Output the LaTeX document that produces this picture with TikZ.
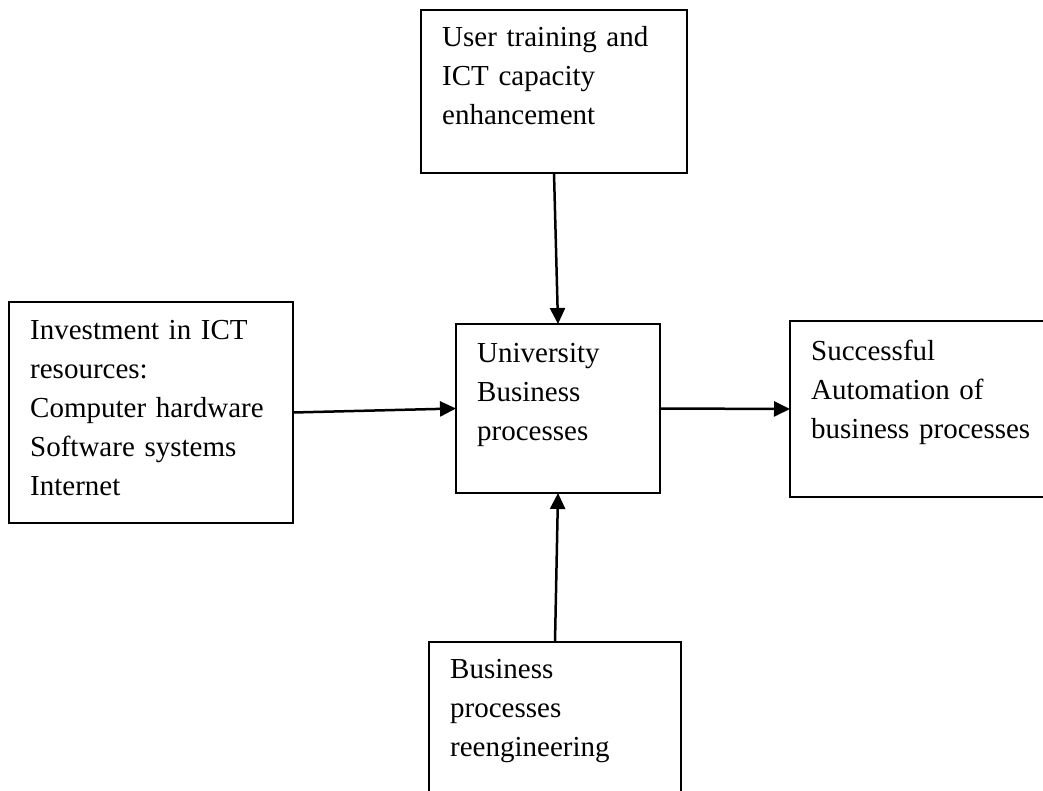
\documentclass[tikz,border=0pt]{standalone}
\usepackage{fontspec}
\setmainfont{Liberation Serif}
\usetikzlibrary{shapes,arrows.meta,positioning}

\begin{document}
\begin{tikzpicture}[x=1pt,y=-1pt,>={Triangle[length=16pt,width=15pt]},font=\fontsize{29}{39}\selectfont]

    % Define node styles
    \tikzstyle{block} = [draw, rectangle, line width=2pt, outer sep=0pt, anchor=north west]
    \tikzstyle{label} = [inner sep=0pt, align=left, anchor=base west]
    \tikzstyle{link} = [->, line width=2.5pt]

    \useasboundingbox (0,0) rectangle (1043,791);
    \clip (0,0) rectangle (1043,791);

    % Draw nodes
    \node [block, minimum width=266pt, minimum height=163pt] (training) at (421,10) {};
    \node [block, minimum width=284pt, minimum height=221pt] (investment) at (9,302) {};
    \node [block, minimum width=204pt, minimum height=169pt] (univ) at (456,324) {};
    \node [block, minimum width=300pt, minimum height=176pt] (success) at (790,321) {};
    \node [block, minimum width=252pt, minimum height=200pt] (reeng) at (429,642) {};

    % Texts inside the boxes
    \node [label, text width=240pt] (trainingtext) at ([shift={(21,37)}]training.north west)
        {User training and\\ICT capacity\\enhancement};
    \node [label, text width=260pt] (investmenttext) at ([shift={(21,37)}]investment.north west)
        {Investment in ICT\\resources:\\Computer hardware\\Software systems\\Internet};
    \node [label, text width=180pt] (univtext) at ([shift={(21,38)}]univ.north west)
        {University\\Business\\processes};
    \node [label, text width=240pt] (successtext) at ([shift={(21,39)}]success.north west)
        {Successful\\Automation of\\business processes};
    \node [label, text width=230pt] (reengtext) at ([shift={(21,36)}]reeng.north west)
        {Business\\processes\\reengineering};

    % Draw arrows
    \draw [link] (training.south) -- (univ.north);
    \draw [link] (investment.east) -- (univ.west);
    \draw [link] (univ.east) -- (success.west);
    \draw [link] (reeng.north) -- (univ.south);

\end{tikzpicture}
\end{document}
